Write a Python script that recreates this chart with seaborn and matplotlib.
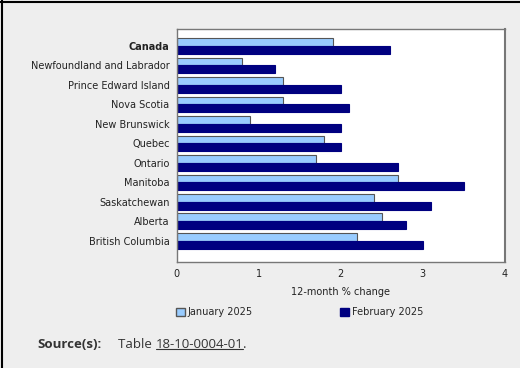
import pandas as pd
import matplotlib.pyplot as plt
import seaborn as sns
from matplotlib.patches import Patch
from matplotlib.lines import Line2D

# Data
regions = ["Canada", "Newfoundland and Labrador", "Prince Edward Island", "Nova Scotia",
           "New Brunswick", "Quebec", "Ontario", "Manitoba", "Saskatchewan",
           "Alberta", "British Columbia"]
jan_2025 = [1.9, 0.8, 1.3, 1.3, 0.9, 1.8, 1.7, 2.7, 2.4, 2.5, 2.2]
feb_2025 = [2.6, 1.2, 2.0, 2.1, 2.0, 2.0, 2.7, 3.5, 3.1, 2.8, 3.0]
series = ["January 2025", "February 2025"]
x_ticks = [0, 1, 2, 3, 4]

df = pd.DataFrame({
    "Region": regions * 2,
    "Month": [series[0]] * len(regions) + [series[1]] * len(regions),
    "Change": jan_2025 + feb_2025,
})

light = "#99ccff"
navy = "#000080"
bg = "#eeeeee"

sns.set_style("white")
plt.rcParams["font.family"] = ["DejaVu Sans"]

fig = plt.figure(figsize=(5.2, 3.68), dpi=100)
fig.patch.set_facecolor(bg)
ax = fig.add_axes([176.5 / 520, 1 - 262 / 368, (505 - 176.5) / 520, (262 - 29) / 368])

sns.barplot(data=df, y="Region", x="Change", hue="Month", order=regions,
            hue_order=series, palette=[light, navy], orient="h", width=0.8,
            saturation=1, legend=False, ax=ax)

for bar in ax.containers[0]:
    bar.set_edgecolor("#555555")
    bar.set_linewidth(0.8)
for bar in ax.containers[1]:
    bar.set_edgecolor(navy)
    bar.set_linewidth(0.8)

ax.set_xlim(0, 4)
ax.set_ylim(len(regions) - 1 + 1.09, -0.87)
ax.set_xticks(x_ticks)
ax.set_xticklabels([str(t) for t in x_ticks], fontsize=7, color="#222222")
ax.tick_params(axis="x", direction="in", length=3, color="#666666", pad=5)
ax.tick_params(axis="y", length=0, pad=5)
ax.set_yticklabels(regions, fontsize=7, color="#222222")
ax.get_yticklabels()[0].set_fontweight("bold")
ax.set_ylabel("")
ax.set_xlabel("12-month % change", fontsize=7, color="#222222", labelpad=6)
for s in ax.spines.values():
    s.set_color("#777777")
    s.set_linewidth(1)
ax.spines["right"].set_linewidth(1.5)

handles = [Patch(facecolor=light, edgecolor="#555555", label=series[0]),
           Patch(facecolor=navy, edgecolor=navy, label=series[1])]
fig.legend(handles=handles, loc="center left", bbox_to_anchor=(172 / 520, 1 - 312 / 368),
           ncol=2, frameon=False, fontsize=7, handlelength=0.9, handleheight=0.9,
           handletextpad=0.3, columnspacing=9.0, borderaxespad=0)

# Source line
fig.canvas.draw()
r = fig.canvas.get_renderer()
y_src = 1 - 345 / 368
t1 = fig.text(37 / 520, y_src, "Source(s):", fontsize=9.5, fontweight="bold",
              color="#333333", va="center", family=["Open Sans", "DejaVu Sans"])
e1 = t1.get_window_extent(r)
t2 = fig.text((e1.x1 + 17) / 520, y_src, "Table ", fontsize=9.5, color="#333333",
              va="center", family=["Open Sans", "DejaVu Sans"])
e2 = t2.get_window_extent(r)
t3 = fig.text(e2.x1 / 520, y_src, "18-10-0004-01", fontsize=9.5, color="#333333",
              va="center", family=["Open Sans", "DejaVu Sans"])
e3 = t3.get_window_extent(r)
fig.text(e3.x1 / 520, y_src, ".", fontsize=9.5, color="#333333", va="center",
         family=["Open Sans", "DejaVu Sans"])
fig.add_artist(Line2D([e3.x0 / 520, e3.x1 / 520], [(e3.y0 + 2.5) / 368] * 2,
                      color="#333333", linewidth=0.8))

# Frame lines on top and left
fig.add_artist(Line2D([0, 1], [1 - 1.5 / 368] * 2, color="black", linewidth=1.5))
fig.add_artist(Line2D([1.5 / 520] * 2, [0, 1], color="black", linewidth=1.5))

fig.savefig("out.png", dpi=100, facecolor=bg)
